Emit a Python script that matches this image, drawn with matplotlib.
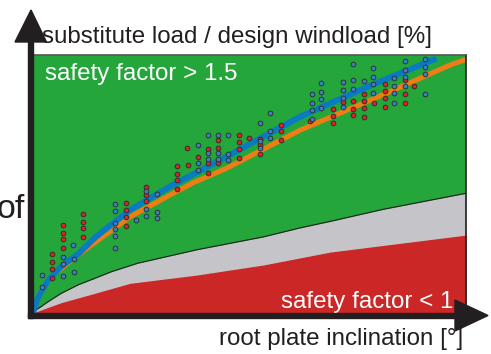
import matplotlib
matplotlib.use("Agg")
import matplotlib.pyplot as plt
from matplotlib.patches import Polygon, Rectangle

plt.rcParams['font.family'] = ['Liberation Sans', 'DejaVu Sans']

# measured samples (x: inclination, y: % of design windload, both scaled 0..100)
blue_x = [2.1, 2.1, 6.9, 6.9, 6.9, 9.2, 9.4, 9.4, 18.9, 18.9, 18.9, 18.9, 18.9, 18.9,
          26.2, 26.2, 26.2, 28.6, 28.6, 28.6, 23.8,
          54.8, 52.4, 54.8, 54.8, 52.4, 52.4, 40.4, 42.7, 45.1, 38.0, 40.4, 42.7, 45.1,
          40.4, 42.7, 38.0, 38.0, 45.1,
          74.0, 78.6, 85.8, 90.5, 90.5, 90.5, 90.5, 66.5, 66.5, 66.5, 66.5, 64.4, 64.4,
          64.4, 64.4, 71.6, 71.6, 71.6, 71.6, 74.0, 74.0, 76.4, 78.6, 78.6, 78.6, 83.4,
          83.4, 83.4, 83.4, 85.8, 85.8, 85.8]
blue_y = [14.7, 10.0, 21.6, 19.0, 14.2, 26.5, 20.8, 16.0, 42.2, 39.7, 35.0, 32.7, 30.0, 25.3,
          47.2, 40.2, 37.6, 46.2, 39.3, 36.7, 35.9,
          77.6, 73.8, 70.7, 67.9, 64.1, 66.8, 69.0, 69.1, 68.9, 65.0, 62.1, 62.1, 61.7,
          59.6, 59.6, 58.0, 55.3, 59.3,
          96.5, 94.8, 97.6, 98.6, 95.5, 92.6, 84.8, 89.0, 85.8, 82.9, 79.3, 84.8, 81.5,
          78.7, 75.1, 89.5, 86.3, 83.4, 80.0, 90.4, 86.8, 89.9, 91.6, 88.8, 85.2, 91.1,
          88.0, 85.2, 81.5, 94.2, 91.5, 87.9]

red_x = [4.5, 4.5, 4.5, 4.5, 6.9, 6.9, 6.9, 6.9, 11.5, 11.5, 11.5, 11.5, 21.4, 21.4, 21.4,
         21.4, 26.2, 26.2, 26.2,
         57.2, 57.2, 57.2, 52.4, 52.4, 52.4, 49.8, 47.5, 47.5, 47.5, 47.5, 42.8, 42.8, 42.8,
         40.4, 40.4, 40.4, 35.6, 38.0, 35.7, 33.3, 33.3, 33.3, 33.3,
         64.0, 69.2, 69.2, 69.2, 71.7, 74.0, 74.0, 74.0, 76.5, 76.5, 76.5, 76.5, 78.8,
         81.2, 81.2, 81.2, 81.2, 85.9, 85.9, 85.9, 88.1]
red_y = [22.8, 19.8, 17.2, 13.7, 34.1, 31.1, 28.7, 25.2, 38.5, 35.4, 32.9, 29.5, 42.8, 39.8, 37.3,
         33.8, 48.8, 45.7, 43.3,
         73.0, 70.4, 66.9, 67.3, 65.1, 61.5, 67.9, 69.1, 66.2, 63.6, 60.2, 67.1, 64.1, 58.0,
         63.4, 58.0, 54.4, 63.8, 60.6, 57.4, 57.0, 53.9, 51.4, 47.9,
         74.5, 79.2, 76.4, 73.8, 81.7, 82.1, 79.1, 76.6, 85.0, 82.2, 79.6, 76.1, 81.5,
         88.8, 85.9, 83.3, 80.0, 90.3, 84.8, 81.3, 87.9]

fit_blue_x = [0, 1.2, 3.5, 6.8, 10.4, 14.5, 22.4, 31.6, 44.7, 61.7, 77.0, 93.2]
fit_blue_y = [0, 6.3, 12.8, 18.5, 22.8, 29.5, 39.9, 49.0, 60.6, 76.1, 87.5, 98.7]
fit_orange_x = [0, 1.2, 3.5, 10.4, 22.4, 31.6, 37.0, 44.7, 61.7, 80.0, 96.3, 100.0]
fit_orange_y = [0, 6.8, 13.2, 22.5, 37.3, 45.7, 50.5, 56.1, 70.9, 84.0, 96.1, 98.3]

sf15_x = [0, 0.4, 3.5, 6.5, 10.4, 14.2, 18.1, 24.2, 37.8, 53.2, 61.7, 68.6, 80.9, 100]
sf15_y = [0, 0.8, 4.4, 7.6, 10.9, 13.4, 16.0, 19.3, 24.5, 29.5, 33.0, 35.5, 40.2, 46.4]
sf1_x = [0, 1.9, 6.5, 14.2, 22.4, 37.8, 53.2, 68.6, 100]
sf1_y = [0, 1.2, 4.0, 7.6, 11.5, 14.7, 18.6, 23.6, 30.2]

W, H = 491, 354
fig = plt.figure(figsize=(W / 100, H / 100), dpi=100)
ax = fig.add_axes([33 / W, 41 / H, 433 / W, 258 / H])
ax.set_facecolor('#25a63b')
ax.set_xlim(0, 100)
ax.set_ylim(0, 100)
ax.set_xticks([])
ax.set_yticks([])
for s in ['left', 'bottom']:
    ax.spines[s].set_visible(False)
ax.spines['top'].set_color('#555555')
ax.spines['top'].set_linewidth(1.2)
ax.spines['right'].set_color('#231f20')
ax.spines['right'].set_linewidth(1.2)

ax.fill_between(sf15_x, 0, sf15_y, color='#c5c4c9', lw=0)
ax.plot(sf15_x, sf15_y, color='#231f20', lw=0.8)
ax.fill_between(sf1_x, 0, sf1_y, color='#cb2727', lw=0)

ax.plot(fit_orange_x, fit_orange_y, color='#f07c16', lw=3.6, solid_capstyle='butt')
ax.plot(fit_blue_x, fit_blue_y, color='#0b7bc1', lw=4.3, solid_capstyle='butt')

ax.scatter(red_x, red_y, s=12, c='#d8232a', edgecolors='#2a2a2a', linewidths=0.6, zorder=5)
ax.scatter(blue_x, blue_y, s=12, c='#3b7dc4', edgecolors='#2a2a2a', linewidths=0.6, zorder=5)

ax.text(0.028, 0.905, 'safety factor > 1.5', transform=ax.transAxes, color='white',
        fontsize=17.4, va='baseline', ha='left')
ax.text(0.97, 0.02, 'safety factor < 1', transform=ax.transAxes, color='white',
        fontsize=17.4, va='baseline', ha='right')


def px(x, y):
    return (x / W, (H - y) / H)


dark = '#231f20'
fig.patches.append(Rectangle(px(28, 318), 5 / W, 276 / H, transform=fig.transFigure,
                             color=dark, zorder=10))
fig.patches.append(Polygon([px(15, 42), px(46.5, 42), px(31, 10)], closed=True,
                           transform=fig.transFigure, color=dark, zorder=10))
fig.patches.append(Rectangle(px(28, 318), 428 / W, 5 / H, transform=fig.transFigure,
                             color=dark, zorder=10))
fig.patches.append(Polygon([px(455, 300), px(455, 331), px(488, 315.5)], closed=True,
                           transform=fig.transFigure, color=dark, zorder=10))

fig.text(*px(42, 43), 'substitute load / design windload [%]', fontsize=17.4,
         color=dark, va='baseline', ha='left')
fig.text(*px(463, 345), 'root plate inclination [°]', fontsize=17.4,
         color=dark, va='baseline', ha='right')
fig.text(*px(25, 218), 'of', fontsize=24.5, color=dark, va='baseline', ha='right')

fig.savefig('out.png', dpi=100)
